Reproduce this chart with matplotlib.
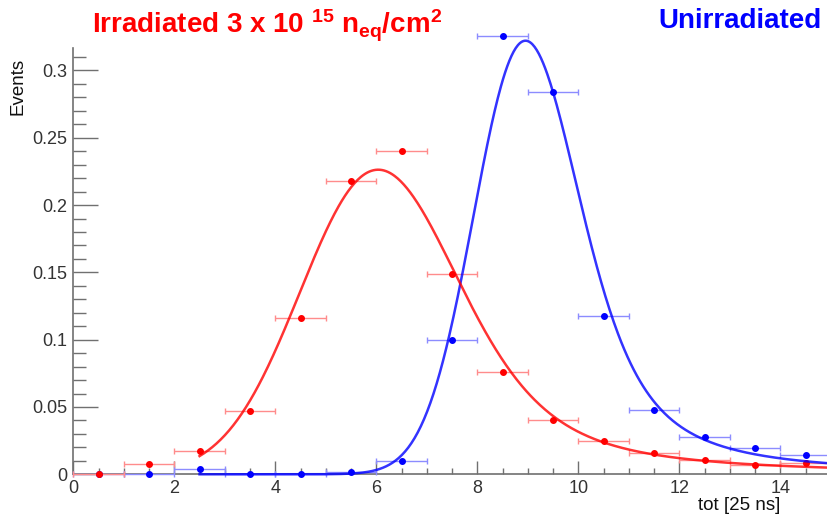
import numpy as np
import matplotlib
matplotlib.use("Agg")
import matplotlib.pyplot as plt
from matplotlib.ticker import MultipleLocator, FuncFormatter

# Normalised tot spectra (bin centres in units of 25 ns)
bin_centres = [0.5, 1.5, 2.5, 3.5, 4.5, 5.5, 6.5, 7.5, 8.5, 9.5, 10.5, 11.5, 12.5, 13.5, 14.5]
irr_events = [0.0, 0.0079, 0.0173, 0.047, 0.1159, 0.2177, 0.2402, 0.149, 0.0757,
              0.0403, 0.0245, 0.0156, 0.0106, 0.0072, 0.0086]
unirr_events = [0.0, 0.0, 0.0037, 0.0, 0.0, 0.0015, 0.0099, 0.100, 0.3259,
                0.2838, 0.1178, 0.0478, 0.0275, 0.0198, 0.0143]

# Landau (x) Gauss fit results: [landau location, landau width, gauss sigma, norm]
irr_fit = [5.6531, 0.3325, 1.3485, 1.0217]
unirr_fit = [8.6969, 0.2560, 0.8724, 0.9899]
fit_range = (2.5, 15.0)

# Landau density table from its integral representation
u = np.linspace(0, 10, 20001)[1:]
t = u ** 2
wt = 2 * u * (u[1] - u[0])
lam_tab = np.arange(-4, 80, 0.01)
phi_tab = np.empty_like(lam_tab)
base = -t * np.log(t)
sw = np.sin(np.pi * t) * wt
for i in range(0, len(lam_tab), 200):
    lam = lam_tab[i:i + 200]
    phi_tab[i:i + 200] = (np.exp(base[None, :] - lam[:, None] * t[None, :]) * sw).sum(1) / np.pi


def landau(lam):
    tail = 1.0 / np.maximum(lam, 1.0) ** 2
    return np.where(lam > 79, tail, np.interp(lam, lam_tab, phi_tab, left=0.0))


def langaus(x, p):
    loc, w, sig, amp = p
    xs = np.arange(-10, 40, 0.01)
    lan = landau((xs - loc) / w) / w
    n = int(5 * sig / 0.01) + 1
    k = np.arange(-n, n + 1) * 0.01
    g = np.exp(-0.5 * (k / sig) ** 2)
    g /= g.sum()
    conv = np.convolve(lan, g, mode="same")
    return amp * np.interp(x, xs, conv)


plt.rcParams["font.family"] = ["Liberation Sans", "DejaVu Sans"]
plt.rcParams["mathtext.fontset"] = "custom"
plt.rcParams["mathtext.rm"] = "Liberation Sans"
plt.rcParams["mathtext.bf"] = "Liberation Sans:bold"
plt.rcParams["mathtext.it"] = "Liberation Sans:italic"

fig = plt.figure(figsize=(8.28, 5.17), dpi=100)
ax = fig.add_axes([73.3 / 828, 42.7 / 517, 757.5 / 828, 426.3 / 517])

xf = np.linspace(fit_range[0], fit_range[1], 600)
for ev, par, col, light in [(unirr_events, unirr_fit, "#0000ff", "#8c8cff"),
                             (irr_events, irr_fit, "#ff0000", "#ff8c8c")]:
    eb = ax.errorbar(bin_centres, ev, xerr=0.5, fmt="o", ms=4, color=col,
                     ecolor=light, elinewidth=1, capsize=2, capthick=1, zorder=3)
    for a in eb.get_children():
        a.set_clip_on(False)
    ax.plot(xf, langaus(xf, par), color=col, lw=1.8, alpha=0.8, zorder=4, clip_on=False)

ax.set_xlim(0, 15)
ax.set_ylim(0, 0.3167)
for s in ["top", "right"]:
    ax.spines[s].set_visible(False)
for s in ["left", "bottom"]:
    ax.spines[s].set_color("#707070")
    ax.spines[s].set_linewidth(1.2)
ax.xaxis.set_major_locator(MultipleLocator(2))
ax.xaxis.set_minor_locator(MultipleLocator(0.5))
ax.yaxis.set_major_locator(MultipleLocator(0.05))
ax.yaxis.set_minor_locator(MultipleLocator(0.01))
ax.yaxis.set_major_formatter(FuncFormatter(lambda v, _: f"{v:g}"))
ax.tick_params(axis="x", which="major", direction="in", length=9.5, width=1, color="#707070",
               labelsize=13, labelcolor="#333333", pad=4)
ax.tick_params(axis="x", which="minor", direction="in", length=4.5, width=1, color="#707070")
ax.tick_params(axis="y", which="major", direction="in", length=18, width=1, color="#707070",
               labelsize=13, labelcolor="#333333", pad=4)
ax.tick_params(axis="y", which="minor", direction="in", length=9, width=1, color="#707070")

fig.text(18 / 828, 1 - 58 / 517, "Events", rotation=90, ha="center", va="top",
         fontsize=13.5, color="#111111")
fig.text(780 / 828, 1 - 505 / 517, "tot [25 ns]", ha="right", va="center",
         fontsize=13.5, color="#111111")
fig.text(92 / 828, 1 - 33 / 517,
         r"Irradiated 3 x 10 $^{\mathbf{15}}$ n$_{\mathbf{eq}}$/cm$^{\mathbf{2}}$",
         ha="left", va="baseline", fontsize=20, fontweight="bold", color="#ff0000")
fig.text(822 / 828, 1 - 28 / 517, "Unirradiated", ha="right", va="baseline",
         fontsize=20, fontweight="bold", color="#0000ff")

fig.savefig("out.png", dpi=100)
